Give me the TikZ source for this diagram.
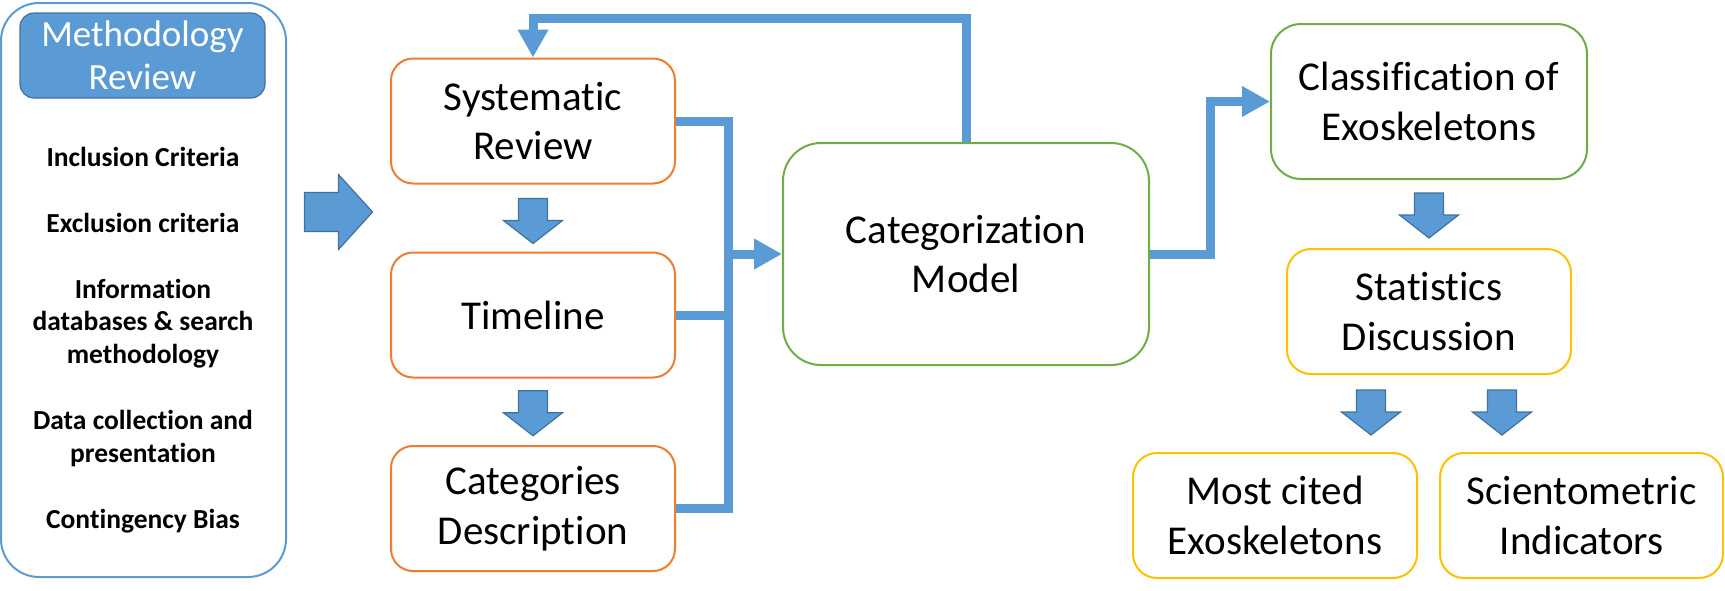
\documentclass[tikz,border=0pt]{standalone}
\usepackage{fontspec}
\setmainfont{Carlito}[Ligatures=NoCommon]
\usetikzlibrary{arrows.meta,calc}
\definecolor{blueA}{HTML}{5B9BD5}
\definecolor{blueD}{HTML}{41719C}
\definecolor{orangeC}{HTML}{ED7D31}
\definecolor{greenC}{HTML}{70AD47}
\definecolor{goldC}{HTML}{FFC000}
\tikzset{
  box/.style={draw, line width=2pt, inner sep=0pt, align=center, fill=white,
    font=\fontsize{41}{49.5}\selectfont},
  obox/.style={box, draw=orangeC, rounded corners=22pt, minimum width=284pt, minimum height=125pt},
  gbox/.style={box, draw=greenC},
  ybox/.style={box, draw=goldC, rounded corners=24pt, minimum width=284pt, minimum height=125pt},
  item/.style={anchor=base, align=center, inner sep=0pt, font=\fontsize{27.5}{32.5}\selectfont\bfseries},
  conn/.style={draw=blueA, line width=9pt, line join=miter},
  tip/.style={-{Triangle[length=28pt,width=29pt]}},
  blockfill/.style={fill=blueA, draw=blueD, line width=1.2pt, line join=miter},
  blockdown/.pic={\path[blockfill] (-14.5,-22.5) -- (14.5,-22.5) -- (14.5,-0.5) -- (29.5,-0.5) -- (0,22.5) -- (-29.5,-0.5) -- (-14.5,-0.5) -- cycle;},
  blockright/.pic={\path[blockfill] (-34,-19.5) -- (0,-19.5) -- (0,-37.5) -- (34,0) -- (0,37.5) -- (0,19.5) -- (-34,19.5) -- cycle;}
}
\begin{document}
\begin{tikzpicture}[x=1pt,y=-1pt]
\useasboundingbox (0,0) rectangle (1725,590);
% Methodology panel
\node[draw=blueA, line width=2pt, rounded corners=38pt, minimum width=285pt, minimum height=574pt, inner sep=0pt] (meth) at (143.5,290) {};
\node[fill=blueA, draw=blueD, line width=1.2pt, rounded corners=14pt, minimum width=245pt, minimum height=85pt, inner sep=0pt, align=center, text=white, font=\fontsize{37}{43}\selectfont] (head) at (142.5,55.5) {Methodology\\Review};
\node[item] (i1) at (143,166) {Inclusion Criteria};
\node[item] (i2) at (143,232) {Exclusion criteria};
\node[item] (i3) at (143,363) {Information\\databases \& search\\methodology};
\node[item] (i4) at (143,462) {Data collection and\\presentation};
\node[item] (i5) at (143,528) {Contingency Bias};
% orange column
\node[obox] (sr) at (533,121) {Systematic\\Review};
\node[obox] (tl) at (533,315) {Timeline};
\node[obox] (cd) at (533,508.5) {Categories\\Description};
% center
\node[gbox, rounded corners=38pt, minimum width=366pt, minimum height=222pt] (cm) at (966,254) {Categorization\\Model};
% right
\node[gbox, rounded corners=30pt, minimum width=316pt, minimum height=155pt] (cl) at (1429,101.5) {Classification of\\Exoskeletons};
\node[ybox] (st) at (1429,311.5) {Statistics\\Discussion};
\node[ybox] (mc) at (1275,515.5) {Most cited\\Exoskeletons};
\node[ybox, minimum width=283pt] (sc) at (1581.5,515.5) {Scientometric\\Indicators};
% block arrows
\pic at ($(meth.east)!0.5!(sr.west)+(0,6.5)$) {blockright};
\pic at ($(sr.south)!0.5!(tl.north)+(0,3)$) {blockdown};
\pic at ($(tl.south)!0.5!(cd.north)+(0,1.5)$) {blockdown};
\pic at ($(cl.south)!0.5!(st.north)+(0,1.5)$) {blockdown};
\pic at ($(st.south)+(-58,37.5)$) {blockdown};
\pic at ($(st.south)+(73,37.5)$) {blockdown};
% connectors
\coordinate (bus) at (728,0);
\coordinate (fb) at (533,18);
\coordinate (ex) at ($(cm.east)!0.5!(cl.west)$);
\draw[conn] (sr.east) -| (bus |- cd.east) -- (cd.east);
\draw[conn] (tl.east) -- (bus |- tl.east);
\draw[conn,tip] (bus |- cm.west) -- (cm.west);
\draw[conn,tip] (cm.north) |- (fb -| sr.north) -- (sr.north);
\draw[conn,tip] (cm.east) -| (ex |- cl.west) -- (cl.west);
\end{tikzpicture}
\end{document}
